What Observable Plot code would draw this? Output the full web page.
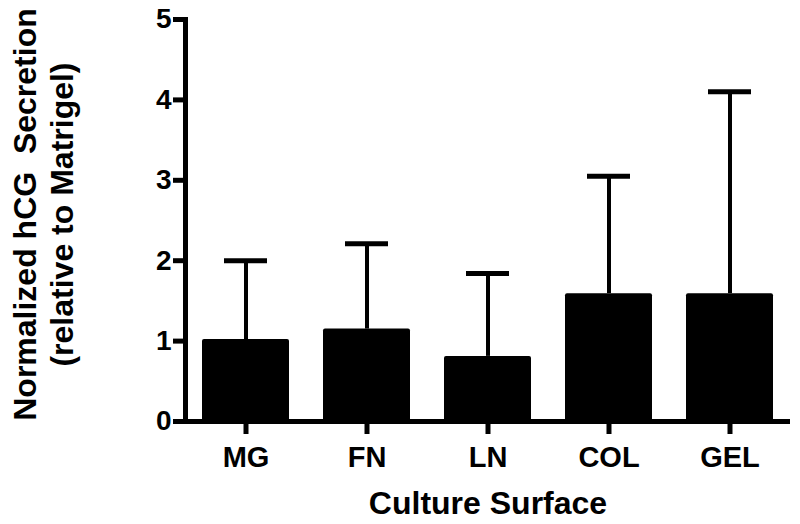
<!DOCTYPE html>
<html>
<head>
<meta charset="utf-8">
<script src="https://cdn.jsdelivr.net/npm/d3@7"></script>
<script src="https://cdn.jsdelivr.net/npm/@observablehq/plot@0.6"></script>
<style>
  html, body { margin: 0; padding: 0; background: #fff; }
  svg { font-family: "Liberation Sans", Arial, Helvetica, sans-serif; }
</style>
</head>
<body>
<div id="chart"></div>
<script>
const categories = ["MG", "FN", "LN", "COL", "GEL"];
const means = [1.02, 1.15, 0.81, 1.59, 1.59];
const uppers = [2.00, 2.21, 1.84, 3.05, 4.10];
const yTicks = [0, 1, 2, 3, 4, 5];
const yTitle = "Normalized hCG  Secretion\n(relative to Matrigel)";
const xTitle = "Culture Surface";

const data = categories.map((c, i) => ({cat: c, mean: means[i], upper: uppers[i]}));

const chart = Plot.plot({
  width: 800,
  height: 524,
  marginLeft: 185,
  marginRight: 10,
  marginTop: 19,
  marginBottom: 103,
  style: {fontFamily: "'Liberation Sans', Arial, sans-serif", color: "#000", background: "#fff"},
  x: {domain: categories, paddingInner: 0.28, paddingOuter: 0.14},
  y: {domain: [0, 5]},
  marks: [
    Plot.ruleX(data, {x: "cat", y1: "mean", y2: "upper", stroke: "#000", strokeWidth: 4}),
    Plot.tickY(data, {x: "cat", y: "upper", stroke: "#000", strokeWidth: 5, inset: 22}),
    Plot.barY(data, {x: "cat", y: "mean", fill: "#000", rx: 2}),
    Plot.ruleY([0], {stroke: "#000", strokeWidth: 5}),
    Plot.frame({anchor: "left", stroke: "#000", strokeWidth: 5}),
    Plot.axisY({ticks: yTicks, tickFormat: "d", tickSize: 12, strokeWidth: 5, tickPadding: 2, fontSize: 28, fontWeight: "bold", label: null}),
    Plot.axisX({tickSize: 13, strokeWidth: 5, tickPadding: 12, fontSize: 29, fontWeight: "bold", label: null}),
    Plot.text([xTitle], {frameAnchor: "bottom", dy: 82, fontSize: 32, fontWeight: "bold", lineAnchor: "middle"}),
    Plot.text([yTitle], {frameAnchor: "left", textAnchor: "middle", rotate: -90, dx: -143, dy: -6, fontSize: 32, fontWeight: "bold", lineHeight: 1.18, lineAnchor: "middle"})
  ]
});
document.getElementById("chart").appendChild(chart);
</script>
</body>
</html>
